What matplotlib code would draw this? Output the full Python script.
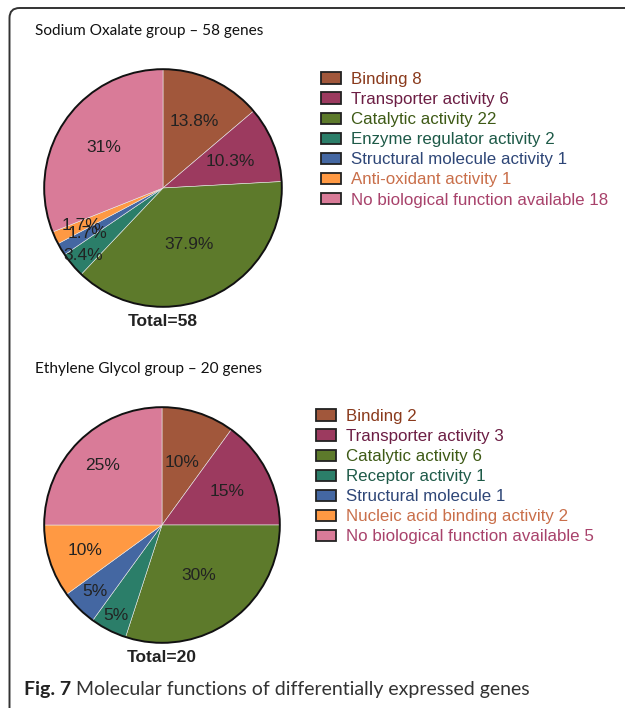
import matplotlib
matplotlib.use("Agg")
import numpy as np
import matplotlib.pyplot as plt
from matplotlib.patches import Patch, Circle, FancyBboxPatch

W, H = 625, 708
DPI = 100

# ---------------- data ----------------
titles = ["Sodium Oxalate group \u2013 58 genes", "Ethylene Glycol group \u2013 20 genes"]
totals = ["Total=58", "Total=20"]

so_categories = ["Binding", "Transporter activity", "Catalytic activity",
                 "Enzyme regulator activity", "Structural molecule activity",
                 "Anti-oxidant activity", "No biological function available"]
so_counts = [8, 6, 22, 2, 1, 1, 18]
so_pct_labels = ["13.8%", "10.3%", "37.9%", "3.4%", "1.7%", "1.7%", "31%"]

eg_categories = ["Binding", "Transporter activity", "Catalytic activity",
                 "Receptor activity", "Structural molecule",
                 "Nucleic acid binding activity", "No biological function available"]
eg_counts = [2, 3, 6, 1, 1, 2, 5]
eg_pct_labels = ["10%", "15%", "30%", "5%", "5%", "10%", "25%"]

caption_bold = "Fig. 7"
caption_text = "Molecular functions of differentially expressed genes"

# ---------------- styles ----------------
face_colors = ["#A1573B", "#9C3A5F", "#5D7A2B", "#2B7E69", "#4467A2", "#FF9943", "#D97B98"]
text_colors = ["#8A3A1C", "#6C1E44", "#3E5A16", "#1E5A48", "#2E4677", "#C96F4A", "#A8426B"]
# radial position of each percentage label (fraction of radius)
so_label_dist = [0.62, 0.61, 0.52, 0.88, 0.745, 0.755, 0.6]
eg_label_dist = [0.56, 0.62, 0.53, 0.86, 0.8, 0.69, 0.71]

fig = plt.figure(figsize=(W / DPI, H / DPI), dpi=DPI)
fig.patch.set_facecolor("white")

def fx(px):
    return px / W

def fy(py):
    return 1 - py / H

# frame (rounded, running off the right and bottom edges)
frame = FancyBboxPatch((fx(9.5), fy(740)), fx(700), 732 / H,
                       boxstyle="round,pad=0,rounding_size=0.016",
                       transform=fig.transFigure, facecolor="none",
                       edgecolor="#333333", linewidth=1.4, mutation_aspect=W / H)
fig.patches.append(frame)

panels = [
    dict(title=titles[0], total=totals[0], cats=so_categories, counts=so_counts,
         pcts=so_pct_labels, dist=so_label_dist, cx=163, cy=188, r=120, title_y=31,
         leg_x=321, leg_y=72, total_y=322),
    dict(title=titles[1], total=totals[1], cats=eg_categories, counts=eg_counts,
         pcts=eg_pct_labels, dist=eg_label_dist, cx=162, cy=525, r=119, title_y=369,
         leg_x=316, leg_y=409, total_y=658),
]

for p in panels:
    cx, cy, r = p["cx"], p["cy"], p["r"]
    ax = fig.add_axes([fx(cx - r), fy(cy + r), 2 * r / W, 2 * r / H])
    wedges, _ = ax.pie(
        p["counts"], colors=face_colors, startangle=90, counterclock=False,
        wedgeprops=dict(edgecolor="#e8e8e8", linewidth=0.4))
    for w, lab, d in zip(wedges, p["pcts"], p["dist"]):
        ang = np.deg2rad((w.theta1 + w.theta2) / 2)
        ax.text(d * np.cos(ang), d * np.sin(ang), lab, ha="center", va="center",
                fontsize=12.5, color="#222222", family="Liberation Sans", zorder=6)
    ax.add_patch(Circle((0, 0), 1, facecolor="none", edgecolor="#111111",
                        linewidth=1.4, zorder=5))
    ax.set_xlim(-1.01, 1.01)
    ax.set_ylim(-1.01, 1.01)
    ax.axis("off")

    fig.text(fx(35), fy(p["title_y"]), p["title"], fontsize=11.1, family="Lato",
             color="#111111", va="center", ha="left")
    fig.text(fx(cx), fy(p["total_y"]), p["total"], fontsize=12.5, fontweight="bold",
             family="Liberation Sans", color="#222222", ha="center", va="center")

    handles = [Patch(facecolor=c, edgecolor="#222222", linewidth=1.3) for c in face_colors]
    labels = [f"{c} {n}" for c, n in zip(p["cats"], p["counts"])]
    leg = fig.legend(handles, labels, loc="upper left",
                     bbox_to_anchor=(fx(p["leg_x"]), fy(p["leg_y"])),
                     bbox_transform=fig.transFigure, frameon=False,
                     prop=dict(family="Liberation Sans", size=12.2),
                     handlelength=1.18, handleheight=0.65, handletextpad=0.59,
                     labelspacing=0.3, borderpad=0, borderaxespad=0)
    for t, c in zip(leg.get_texts(), text_colors):
        t.set_color(c)

# caption: bold part followed by regular part
cap1 = fig.text(fx(24), fy(690), caption_bold + " ", fontsize=14, fontweight="bold",
                family="Lato", color="#222222", va="center", ha="left")
fig.canvas.draw()
bb = cap1.get_window_extent(renderer=fig.canvas.get_renderer())
fig.text(bb.x1 / W, fy(690), caption_text, fontsize=14, family="Lato",
         color="#333333", va="center", ha="left")

fig.savefig("out.png", dpi=DPI, facecolor="white")
